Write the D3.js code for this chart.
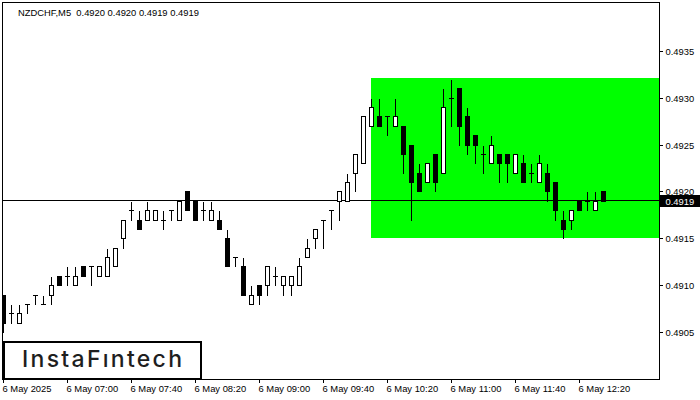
<!DOCTYPE html>
<html>
<head>
<meta charset="utf-8">
<script src="https://cdn.jsdelivr.net/npm/d3@7"></script>
<style>
  html, body { margin: 0; padding: 0; background: #fff; }
  svg { display: block; }
  text { font-family: "Liberation Sans", Arial, sans-serif; }
</style>
</head>
<body>
<div id="chart"></div>
<script>
// ---------- data ----------
const symbolTitle = "NZDCHF,M5  0.4920 0.4920 0.4919 0.4919";
const startTime = "2025-05-06T06:20:00";   // first bar, 5-minute bars
const barMinutes = 5;

const open = [
  0.4909,0.4907,0.4906,0.4908,0.4909,0.4908,0.4909,0.4911,0.4911,0.4910,
  0.4912,0.4912,0.4911,0.4911,0.4912,0.4915,0.4918,0.4917,0.4917,0.4917,
  0.4917,0.4918,0.4917,0.4920,0.4919,0.4918,0.4917,0.4917,0.4915,0.4913,
  0.4912,0.4908,0.4910,0.4910,0.4911,0.4910,0.4910,0.4910,0.4913,0.4915,
  0.4917,0.4918,0.4919,0.4919,0.4922,0.4923,0.4927,0.4928,0.4928,0.4927,
  0.4927,0.4925,0.4922,0.4921,0.4924,0.4922,0.4930,0.4931,0.4928,0.4926,
  0.4924,0.4923,0.4924,0.4924,0.4922,0.4923,0.4922,0.4921,0.4922,0.4921,
  0.4917,0.4917,0.4919,0.4919,0.4918,0.4920
];
const high = [
  0.4909,0.4908,0.4908,0.4908,0.4909,0.4909,0.4911,0.4911,0.4912,0.4912,
  0.4912,0.4912,0.4912,0.4914,0.4914,0.4917,0.4919,0.4918,0.4919,0.4918,
  0.4918,0.4918,0.4919,0.4920,0.4919,0.4919,0.4919,0.4918,0.4916,0.4913,
  0.4913,0.4910,0.4910,0.4912,0.4912,0.4911,0.4911,0.4913,0.4915,0.4916,
  0.4917,0.4918,0.4920,0.4922,0.4924,0.4928,0.4930,0.4930,0.4928,0.4930,
  0.4927,0.4925,0.4923,0.4923,0.4924,0.4931,0.4932,0.4931,0.4929,0.4926,
  0.4925,0.4926,0.4924,0.4924,0.4924,0.4924,0.4923,0.4924,0.4923,0.4921,
  0.4918,0.4918,0.4919,0.4920,0.4920,0.4920
];
const low = [
  0.4905,0.4906,0.4906,0.4907,0.4908,0.4908,0.4908,0.4910,0.4910,0.4910,
  0.4911,0.4910,0.4911,0.4911,0.4912,0.4914,0.4917,0.4916,0.4917,0.4917,
  0.4916,0.4917,0.4917,0.4918,0.4917,0.4917,0.4917,0.4916,0.4912,0.4912,
  0.4909,0.4908,0.4908,0.4909,0.4910,0.4909,0.4909,0.4910,0.4913,0.4914,
  0.4914,0.4916,0.4917,0.4919,0.4920,0.4923,0.4927,0.4927,0.4926,0.4927,
  0.4922,0.4917,0.4920,0.4921,0.4920,0.4922,0.4927,0.4925,0.4924,0.4923,
  0.4922,0.4923,0.4921,0.4921,0.4922,0.4921,0.4921,0.4921,0.4919,0.4917,
  0.4915,0.4916,0.4918,0.4918,0.4918,0.4919
];
const close = [
  0.4906,0.4907,0.4907,0.4908,0.4909,0.4908,0.4910,0.4910,0.4911,0.4911,
  0.4911,0.4912,0.4912,0.4913,0.4914,0.4917,0.4918,0.4916,0.4918,0.4918,
  0.4917,0.4918,0.4919,0.4918,0.4917,0.4918,0.4918,0.4916,0.4912,0.4913,
  0.4909,0.4909,0.4909,0.4912,0.4911,0.4911,0.4911,0.4912,0.4914,0.4916,
  0.4917,0.4918,0.4920,0.4921,0.4924,0.4928,0.4929,0.4927,0.4928,0.4928,
  0.4924,0.4921,0.4920,0.4923,0.4921,0.4929,0.4930,0.4927,0.4925,0.4925,
  0.4924,0.4925,0.4923,0.4923,0.4924,0.4921,0.4922,0.4923,0.4920,0.4918,
  0.4916,0.4918,0.4918,0.4919,0.4919,0.4919
];

const priceTicks = [0.4905, 0.4910, 0.4915, 0.4920, 0.4925, 0.4930, 0.4935];
const timeTicks = ["06:20","07:00","07:40","08:20","09:00","09:40","10:20","11:00","11:40","12:20"];
const timeTickLabels = ["6 May 2025","6 May 07:00","6 May 07:40","6 May 08:20","6 May 09:00",
  "6 May 09:40","6 May 10:20","6 May 11:00","6 May 11:40","6 May 12:20"];

const bidPrice = 0.4919;
const patternStart = "10:10";
const patternTop = 0.4932;
const patternBottom = 0.4915;
const logoText = "InstaF\u0131ntech";

// ---------- layout ----------
const W = 700, H = 400;
const plotLeft = 2, plotRight = 659, plotTop = 2, plotBottom = 379;
const visibleBars = 82;

const t0 = new Date(startTime);
const stepMs = barMinutes * 60000;
const times = open.map((_, i) => new Date(t0.getTime() + i * stepMs));
const atTime = s => new Date("2025-05-06T" + s + ":00");

const x = d3.scaleTime()
  .domain([t0, new Date(t0.getTime() + visibleBars * stepMs)])
  .range([3.5, 3.5 + 8 * visibleBars]);
const y = d3.scaleLinear().domain([0.4900, 0.49402]).range([plotBottom, plotTop]);
const sy = p => Math.round(y(p)) + 0.5;

const svg = d3.select("#chart").append("svg")
  .attr("width", W).attr("height", H)
  .attr("shape-rendering", "crispEdges");
svg.append("rect").attr("width", W).attr("height", H).attr("fill", "#fff");

const clip = svg.append("clipPath").attr("id", "plotclip")
  .append("rect").attr("x", plotLeft + 1).attr("y", plotTop + 1)
  .attr("width", plotRight - plotLeft - 1).attr("height", plotBottom - plotTop - 1);

const plot = svg.append("g").attr("clip-path", "url(#plotclip)");

// pattern rectangle
const rx = Math.floor(x(atTime(patternStart)));
const ryTop = Math.floor(y(patternTop));
plot.append("rect")
  .attr("x", rx).attr("y", ryTop)
  .attr("width", plotRight - rx)
  .attr("height", Math.round(y(patternBottom)) - ryTop)
  .attr("fill", "#00ff00");

// bid line
plot.append("line")
  .attr("x1", plotLeft).attr("x2", plotRight)
  .attr("y1", Math.floor(y(bidPrice)) + 0.5).attr("y2", Math.floor(y(bidPrice)) + 0.5)
  .attr("stroke", "#000").attr("stroke-width", 1);

// candles
const bars = open.map((o, i) => ({ t: times[i], o, h: high[i], l: low[i], c: close[i] }));
const cg = plot.append("g").selectAll("g").data(bars).join("g");
cg.each(function(d) {
  const g = d3.select(this);
  const cx = Math.floor(x(d.t)) + 0.5;
  g.append("line").attr("x1", cx).attr("x2", cx)
    .attr("y1", sy(d.h)).attr("y2", sy(d.l))
    .attr("stroke", "#000").attr("stroke-width", 1);
  if (d.o === d.c) {
    g.append("line").attr("x1", cx - 2.5).attr("x2", cx + 2.5)
      .attr("y1", sy(d.o)).attr("y2", sy(d.o))
      .attr("stroke", "#000").attr("stroke-width", 1);
  } else {
    const top = Math.max(d.o, d.c), bot = Math.min(d.o, d.c);
    g.append("rect").attr("x", cx - 2).attr("y", sy(top))
      .attr("width", 4).attr("height", sy(bot) - sy(top))
      .attr("fill", d.c > d.o ? "#fff" : "#000")
      .attr("stroke", "#000").attr("stroke-width", 1);
  }
});

// frame
svg.append("rect")
  .attr("x", plotLeft + 0.5).attr("y", plotTop + 0.5)
  .attr("width", plotRight - plotLeft).attr("height", plotBottom - plotTop)
  .attr("fill", "none").attr("stroke", "#000").attr("stroke-width", 1);

// right price axis
const yAxis = d3.axisRight(y).tickValues(priceTicks).tickFormat(d3.format(".4f")).tickSize(3).tickPadding(3);
const ya = svg.append("g").attr("transform", `translate(${plotRight + 0.5},0)`).call(yAxis);
ya.select(".domain").remove();
ya.selectAll(".tick").attr("transform", d => `translate(0,${Math.round(y(d)) + 0.5})`);
ya.selectAll(".tick line").attr("stroke", "#000");
ya.selectAll(".tick text")
  .attr("x", 6).attr("dy", null).attr("y", 3.5)
  .attr("fill", "#000").style("font-size", "9.4px")
  .style("font-family", "'Liberation Sans', Arial, sans-serif");

// bottom time axis
const xAxis = d3.axisBottom(x)
  .tickValues(timeTicks.map(atTime))
  .tickFormat((d, i) => timeTickLabels[i])
  .tickSize(3).tickPadding(2);
const xa = svg.append("g").attr("transform", `translate(0,${plotBottom + 0.5})`).call(xAxis);
xa.select(".domain").remove();
xa.selectAll(".tick").attr("transform", d => `translate(${Math.floor(x(d)) + 0.5},0)`);
xa.selectAll(".tick line").attr("stroke", "#000");
xa.selectAll(".tick text")
  .attr("text-anchor", "start").attr("x", -1).attr("dy", null).attr("y", 12.5)
  .attr("fill", "#000").style("font-size", "9.4px")
  .style("font-family", "'Liberation Sans', Arial, sans-serif");

// current price label
const by = Math.floor(y(bidPrice));
svg.append("rect").attr("x", plotRight + 1).attr("y", by - 5)
  .attr("width", W - plotRight - 1).attr("height", 12).attr("fill", "#000");
svg.append("text").attr("x", plotRight + 6.5).attr("y", by + 4.5)
  .attr("fill", "#fff").style("font-size", "9.4px")
  .text(d3.format(".4f")(bidPrice));

// title
svg.append("text").attr("x", 18).attr("y", 15.5)
  .attr("fill", "#000").style("font-size", "9.4px")
  .attr("xml:space", "preserve").style("white-space", "pre")
  .text(symbolTitle);

// logo
svg.append("rect").attr("x", 4).attr("y", 342).attr("width", 197).attr("height", 37)
  .attr("fill", "#fff").attr("stroke", "#000").attr("stroke-width", 2);
svg.append("text").attr("x", 22).attr("y", 367)
  .attr("fill", "#1e1e1e")
  .style("font-family", "Inter, Roboto, sans-serif").style("font-weight", 500)
  .style("font-size", "23px")
  .attr("textLength", 160).attr("lengthAdjust", "spacing")
  .attr("shape-rendering", "auto")
  .text(logoText);
</script>
</body>
</html>
